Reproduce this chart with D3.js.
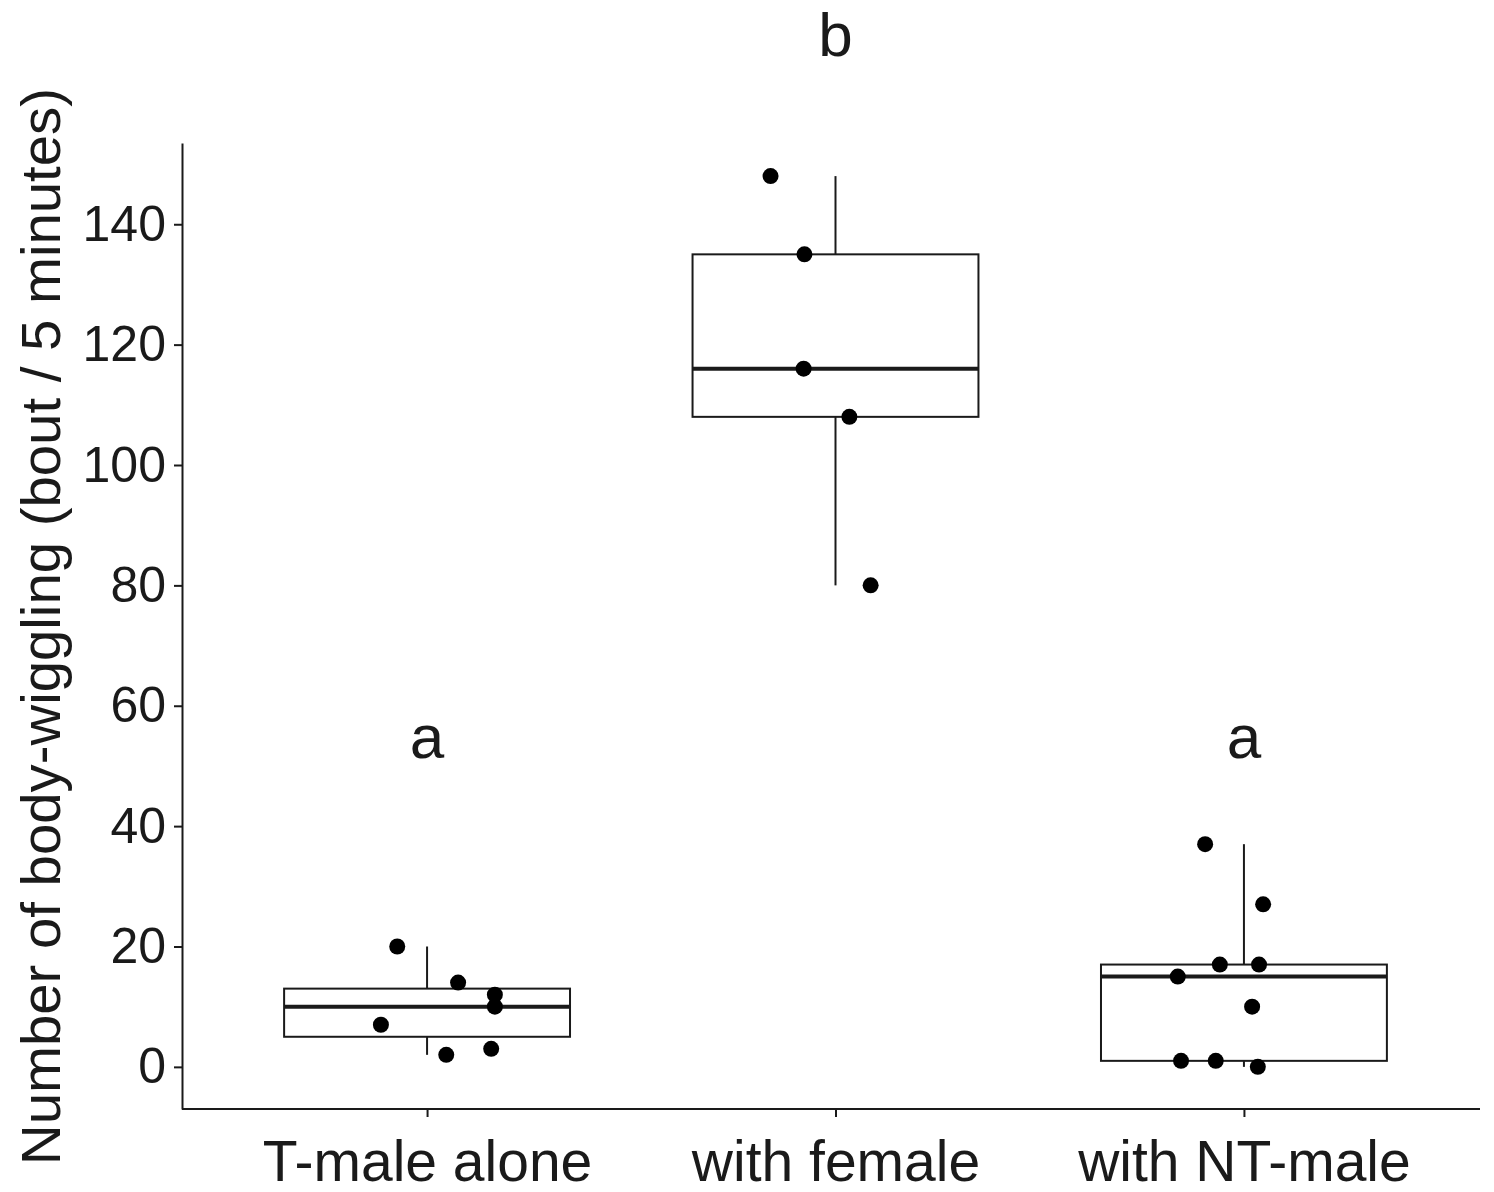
<!DOCTYPE html>
<html>
<head>
<meta charset="utf-8">
<script src="https://cdn.jsdelivr.net/npm/d3@7"></script>
<style>
  body { margin: 0; background: #fff; }
  text { font-family: "Liberation Sans", Arial, sans-serif; fill: #1a1a1a; }
</style>
</head>
<body>
<div id="chart"></div>
<script>
// groups and raw observations (bouts / 5 min)
const categories = ["T-male alone", "with female", "with NT-male"];
const tMaleAlone = [20, 14, 12, 10, 7, 2, 3];
const withFemale = [148, 135, 116, 108, 80];
const withNTMale = [37, 27, 17, 17, 15, 10, 1, 1, 0];
// horizontal jitter of each point, fraction of category step
const jitterTMale = [-0.073, 0.076, 0.166, 0.166, -0.113, 0.047, 0.157];
const jitterFemale = [-0.159, -0.076, -0.078, 0.034, 0.086];
const jitterNTMale = [-0.095, 0.047, -0.059, 0.037, -0.162, 0.02, -0.154, -0.069, 0.034];
const sigLetters = ["a", "b", "a"];
const letterY = [55, 171.5, 55];
const yTicks = [0, 20, 40, 60, 80, 100, 120, 140];

const groups = categories.map((c, i) => ({
    name: c,
    values: [tMaleAlone, withFemale, withNTMale][i],
    jitter: [jitterTMale, jitterFemale, jitterNTMale][i],
    letter: sigLetters[i],
    letterY: letterY[i]
}));

const W = 1494, H = 1192;
const margin = {top: 143, right: 14, bottom: 83, left: 182};

const svg = d3.select("#chart").append("svg")
    .attr("width", W)
    .attr("height", H);

const y = d3.scaleLinear()
    .domain([-7, 153.5])
    .range([H - margin.bottom, margin.top]);

const x = d3.scalePoint()
    .domain(categories)
    .range([margin.left, W - 5])
    .padding(0.6);

const step = x.step();
const halfBox = step * 0.35;

// box stats (R type-7 quantiles, 1.5 IQR whiskers)
groups.forEach(g => {
    const s = g.values.slice().sort(d3.ascending);
    g.q1 = d3.quantile(s, 0.25);
    g.med = d3.quantile(s, 0.5);
    g.q3 = d3.quantile(s, 0.75);
    const iqr = g.q3 - g.q1;
    g.lo = d3.min(s.filter(v => v >= g.q1 - 1.5 * iqr));
    g.hi = d3.max(s.filter(v => v <= g.q3 + 1.5 * iqr));
});

const ink = "#1a1a1a";

// y axis
const yAxis = svg.append("g")
    .attr("transform", `translate(${margin.left},0)`)
    .call(d3.axisLeft(y).tickValues(yTicks).tickSize(8).tickPadding(8).tickSizeOuter(0));
yAxis.select(".domain").attr("stroke", ink).attr("stroke-width", 2);
yAxis.selectAll(".tick line").attr("stroke", ink).attr("stroke-width", 2);
yAxis.selectAll(".tick text")
    .attr("font-size", 50)
    .attr("fill", ink)
    .style("font-family", "'Liberation Sans', Arial, sans-serif");

// x axis
const xAxis = svg.append("g")
    .attr("transform", `translate(0,${H - margin.bottom})`)
    .call(d3.axisBottom(x).tickSize(8).tickPadding(24).tickSizeOuter(0));
xAxis.select(".domain").attr("d", `M${margin.left},0H${W - margin.right}`)
    .attr("stroke", ink).attr("stroke-width", 2);
xAxis.selectAll(".tick line").attr("stroke", ink).attr("stroke-width", 2);
xAxis.selectAll(".tick text")
    .attr("font-size", 57)
    .attr("fill", ink)
    .style("font-family", "'Liberation Sans', Arial, sans-serif");

// y label (narrow face in original)
svg.append("text")
    .attr("transform", `translate(60,${(88 + 1165) / 2}) rotate(-90)`)
    .attr("text-anchor", "middle")
    .attr("font-size", 56)
    .attr("textLength", 1077)
    .attr("lengthAdjust", "spacingAndGlyphs")
    .text("Number of body-wiggling (bout / 5 minutes)");

// boxplots
const box = svg.append("g").selectAll("g")
    .data(groups)
    .join("g");

box.append("line")
    .attr("x1", d => x(d.name)).attr("x2", d => x(d.name))
    .attr("y1", d => y(d.q3)).attr("y2", d => y(d.hi))
    .attr("stroke", ink).attr("stroke-width", 2);
box.append("line")
    .attr("x1", d => x(d.name)).attr("x2", d => x(d.name))
    .attr("y1", d => y(d.q1)).attr("y2", d => y(d.lo))
    .attr("stroke", ink).attr("stroke-width", 2);
box.append("rect")
    .attr("x", d => x(d.name) - halfBox)
    .attr("width", halfBox * 2)
    .attr("y", d => y(d.q3))
    .attr("height", d => y(d.q1) - y(d.q3))
    .attr("fill", "none")
    .attr("stroke", ink).attr("stroke-width", 2);
box.append("line")
    .attr("x1", d => x(d.name) - halfBox).attr("x2", d => x(d.name) + halfBox)
    .attr("y1", d => y(d.med)).attr("y2", d => y(d.med))
    .attr("stroke", ink).attr("stroke-width", 4);

// jittered points
box.selectAll("circle")
    .data(d => d.values.map((v, i) => ({name: d.name, v: v, j: d.jitter[i]})))
    .join("circle")
    .attr("cx", d => x(d.name) + d.j * step)
    .attr("cy", d => y(d.v))
    .attr("r", 8)
    .attr("fill", "#000");

// significance letters
svg.append("g").selectAll("text")
    .data(groups)
    .join("text")
    .attr("x", d => x(d.name))
    .attr("y", d => y(d.letterY))
    .attr("dy", "0.35em")
    .attr("text-anchor", "middle")
    .attr("font-size", 62)
    .text(d => d.letter);
</script>
</body>
</html>
